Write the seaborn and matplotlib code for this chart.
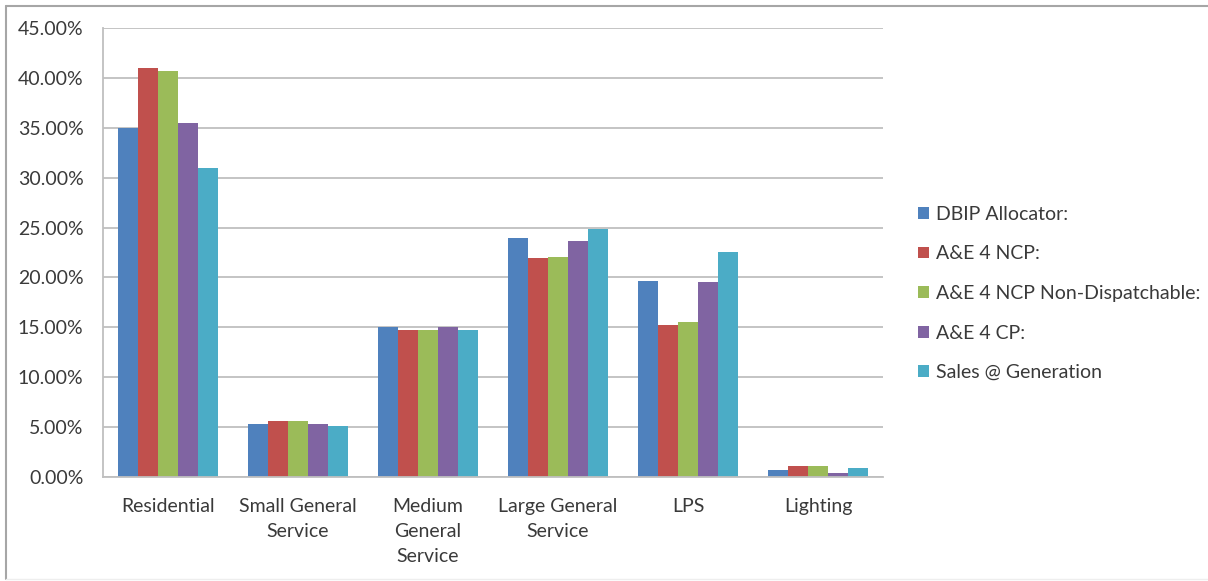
import matplotlib
matplotlib.use("Agg")
import matplotlib.pyplot as plt
from matplotlib.lines import Line2D
from matplotlib.ticker import FuncFormatter, FixedLocator
import seaborn as sns
import pandas as pd

# Rate classes on the x axis
categories = ["Residential", "Small General\nService", "Medium\nGeneral\nService",
              "Large General\nService", "LPS", "Lighting"]

# Allocation shares (%) for each allocator
dbip_allocator = [35.0, 5.33, 15.0, 24.0, 19.6, 0.73]
ae4_ncp = [41.0, 5.57, 14.75, 21.9, 15.2, 1.07]
ae4_ncp_nondispatch = [40.7, 5.57, 14.75, 22.0, 15.5, 1.07]
ae4_cp = [35.5, 5.33, 15.0, 23.7, 19.5, 0.4]
sales_at_generation = [30.95, 5.13, 14.75, 24.9, 22.6, 0.93]

series_names = ["DBIP Allocator:", "A&E 4 NCP:", "A&E 4 NCP Non-Dispatchable:",
                "A&E 4 CP:", "Sales @ Generation"]
series_values = [dbip_allocator, ae4_ncp, ae4_ncp_nondispatch, ae4_cp, sales_at_generation]
palette = ["#4F81BD", "#C0504D", "#9BBB59", "#8064A2", "#4BACC6"]

rows = []
for name, vals in zip(series_names, series_values):
    for cat, v in zip(categories, vals):
        rows.append({"category": cat, "series": name, "value": v})
df = pd.DataFrame(rows)

sns.set_style("white")
plt.rcParams["font.family"] = ["Lato", "DejaVu Sans"]
text_color = "#3A3A3A"
grid_color = "#BFBFBF"
fs = 14

fig = plt.figure(figsize=(12.08, 5.81), dpi=100)
ax = fig.add_axes([103 / 1208, 1 - 477 / 581, 780 / 1208, 449 / 581])

sns.barplot(data=df, x="category", y="value", hue="series", hue_order=series_names,
            order=categories, palette=palette, width=0.77, saturation=1,
            errorbar=None, ax=ax, edgecolor="none", linewidth=0)

ax.set_ylim(0, 45)
ax.set_xlim(-0.5, len(categories) - 0.5)
ax.set_yticks(range(0, 46, 5))
ax.yaxis.set_major_formatter(FuncFormatter(lambda v, _: f"{v:.2f}%"))
ax.grid(axis="y", color=grid_color, linewidth=1.3)
ax.set_axisbelow(True)
ax.set_xlabel("")
ax.set_ylabel("")

for side in ("top", "right"):
    ax.spines[side].set_visible(False)
for side in ("left", "bottom"):
    ax.spines[side].set_color(grid_color)
    ax.spines[side].set_linewidth(1.3)

# Category boundary ticks on x, outward ticks on y
ax.xaxis.set_minor_locator(FixedLocator([i - 0.5 for i in range(len(categories) + 1)]))
ax.tick_params(axis="x", which="major", length=0, pad=15, labelsize=fs, labelcolor=text_color)
ax.tick_params(axis="x", which="minor", length=5, width=1.3, color=grid_color, direction="out")
ax.tick_params(axis="y", which="major", length=5, width=1.3, color=grid_color,
               direction="out", pad=9, labelsize=fs, labelcolor=text_color)
for lbl in ax.get_xticklabels():
    lbl.set_linespacing(1.58)
    lbl.set_verticalalignment("top")

leg = ax.legend(loc="center left", bbox_to_anchor=((918 - 103) / 780, (477 - 293.5) / 449),
                frameon=False, fontsize=fs, handlelength=0.55, handleheight=0.55,
                handletextpad=0.35, labelspacing=1.16, labelcolor=text_color,
                borderpad=0, borderaxespad=0)

# Outer frame of the chart area
fig.add_artist(Line2D([6 / 1208, 1.0], [1 - 6 / 581, 1 - 6 / 581], color="#A6A6A6", lw=1.5))
fig.add_artist(Line2D([6 / 1208, 6 / 1208], [1 - 6 / 581, 1 - 579 / 581], color="#A6A6A6", lw=1.5))
fig.add_artist(Line2D([6 / 1208, 1.0], [1 - 579 / 581, 1 - 579 / 581], color="#EEEEEE", lw=1.0))

fig.savefig("out.png", dpi=100)
